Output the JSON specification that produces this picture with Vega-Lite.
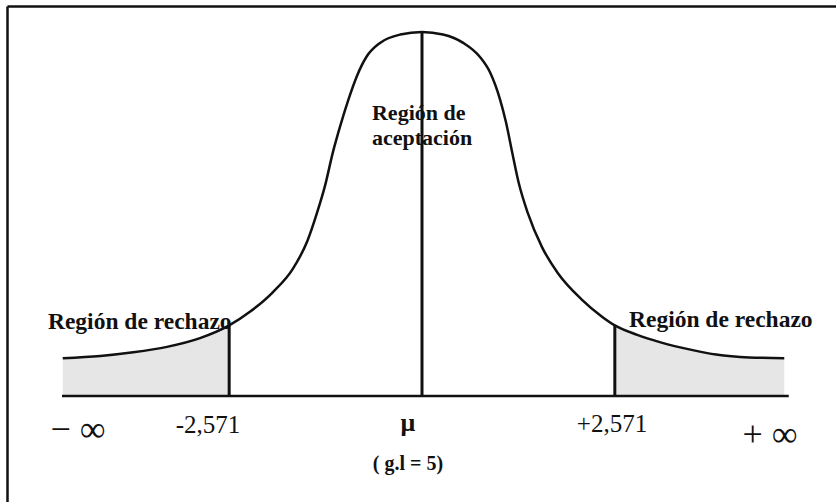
{
  "$schema": "https://vega.github.io/schema/vega-lite/v6.json",
  "width": 829,
  "height": 496,
  "autosize": {"type": "none"},
  "padding": {"left": 7, "top": 6, "right": 0, "bottom": 0},
  "background": "white",
  "config": {
    "view": {"stroke": null},
    "axis": {"grid": false, "ticks": false, "labels": false, "domain": true, "domainColor": "#111111", "domainWidth": 2.5, "title": null}
  },
  "datasets": {
    "curva": [
      {"t": -4.79, "y": 0.104, "zona": "izq"},
      {"t": -4.29, "y": 0.110, "zona": "izq"},
      {"t": -3.85, "y": 0.120, "zona": "izq"},
      {"t": -3.40, "y": 0.135, "zona": "izq"},
      {"t": -2.96, "y": 0.159, "zona": "izq"},
      {"t": -2.571, "y": 0.194, "zona": "izq"},
      {"t": -2.29, "y": 0.232, "zona": "centro"},
      {"t": -1.99, "y": 0.285, "zona": "centro"},
      {"t": -1.72, "y": 0.350, "zona": "centro"},
      {"t": -1.53, "y": 0.425, "zona": "centro"},
      {"t": -1.40, "y": 0.503, "zona": "centro"},
      {"t": -1.29, "y": 0.580, "zona": "centro"},
      {"t": -1.19, "y": 0.668, "zona": "centro"},
      {"t": -1.09, "y": 0.742, "zona": "centro"},
      {"t": -0.98, "y": 0.815, "zona": "centro"},
      {"t": -0.87, "y": 0.878, "zona": "centro"},
      {"t": -0.74, "y": 0.932, "zona": "centro"},
      {"t": -0.56, "y": 0.970, "zona": "centro"},
      {"t": -0.29, "y": 0.993, "zona": "centro"},
      {"t": 0, "y": 1.0, "zona": "centro"},
      {"t": 0.28, "y": 0.993, "zona": "centro"},
      {"t": 0.55, "y": 0.970, "zona": "centro"},
      {"t": 0.77, "y": 0.932, "zona": "centro"},
      {"t": 0.91, "y": 0.888, "zona": "centro"},
      {"t": 1.04, "y": 0.815, "zona": "centro"},
      {"t": 1.12, "y": 0.752, "zona": "centro"},
      {"t": 1.20, "y": 0.672, "zona": "centro"},
      {"t": 1.29, "y": 0.585, "zona": "centro"},
      {"t": 1.41, "y": 0.503, "zona": "centro"},
      {"t": 1.60, "y": 0.409, "zona": "centro"},
      {"t": 1.81, "y": 0.338, "zona": "centro"},
      {"t": 2.13, "y": 0.265, "zona": "centro"},
      {"t": 2.40, "y": 0.218, "zona": "centro"},
      {"t": 2.571, "y": 0.194, "zona": "der"},
      {"t": 2.87, "y": 0.168, "zona": "der"},
      {"t": 3.17, "y": 0.148, "zona": "der"},
      {"t": 3.61, "y": 0.126, "zona": "der"},
      {"t": 3.92, "y": 0.114, "zona": "der"},
      {"t": 4.36, "y": 0.106, "zona": "der"},
      {"t": 4.83, "y": 0.104, "zona": "der"}
    ],
    "lineas": [
      {"t": -2.571, "y": 0, "ytop": 0.194},
      {"t": 0, "y": 0, "ytop": 1.0},
      {"t": 2.571, "y": 0, "ytop": 0.194}
    ],
    "base": [
      {"t": -4.8, "t2": 4.89, "y": 0}
    ],
    "rotulos": [
      {"t": -4.987, "y": 0.184, "texto": "Región de rechazo", "grupo": "rechazo"},
      {"t": 2.76, "y": 0.190, "texto": "Región de rechazo", "grupo": "rechazo"},
      {"t": -0.667, "y": 0.758, "texto": "Región de", "grupo": "region"},
      {"t": -0.667, "y": 0.690, "texto": "aceptación", "grupo": "region"},
      {"t": -2.853, "y": -0.102, "texto": "-2,571", "grupo": "valor"},
      {"t": 2.533, "y": -0.099, "texto": "+2,571", "grupo": "valor"},
      {"t": -0.187, "y": -0.096, "texto": "μ", "grupo": "mu"},
      {"t": -0.187, "y": -0.203, "texto": "( g.l = 5)", "grupo": "gl"},
      {"t": -4.587, "y": -0.093, "texto": "− ∞", "grupo": "inf"},
      {"t": 4.64, "y": -0.107, "texto": "+ ∞", "grupo": "inf"}
    ]
  },
  "encoding": {
    "x": {"field": "t", "type": "quantitative", "scale": {"domain": [-5.5333, 5.52], "nice": false, "zero": false}, "axis": {"orient": "top", "title": null}},
    "y": {"field": "y", "type": "quantitative", "scale": {"domain": [-0.2912, 1.0714], "nice": false, "zero": false}, "axis": {"orient": "left", "title": null}}
  },
  "layer": [
    {
      "data": {"name": "curva"},
      "transform": [{"filter": "datum.zona == 'izq'"}],
      "mark": {"type": "area", "interpolate": "monotone", "fill": "#e6e6e6"},
      "encoding": {"y2": {"datum": 0}}
    },
    {
      "data": {"name": "curva"},
      "transform": [{"filter": "datum.zona == 'der'"}],
      "mark": {"type": "area", "interpolate": "monotone", "fill": "#e6e6e6"},
      "encoding": {"y2": {"datum": 0}}
    },
    {
      "data": {"name": "curva"},
      "mark": {"type": "line", "interpolate": "monotone", "stroke": "#111111", "strokeWidth": 2.5},
      "encoding": {}
    },
    {
      "data": {"name": "lineas"},
      "mark": {"type": "rule", "stroke": "#111111", "strokeWidth": 3},
      "encoding": {"y2": {"field": "ytop"}}
    },
    {
      "data": {"name": "base"},
      "mark": {"type": "rule", "stroke": "#111111", "strokeWidth": 2.5},
      "encoding": {"x2": {"field": "t2"}}
    },
    {
      "data": {"name": "rotulos"},
      "transform": [{"filter": "datum.grupo == 'rechazo'"}],
      "mark": {"type": "text", "font": "Liberation Serif", "fontSize": 23.5, "fontWeight": "bold", "align": "left", "baseline": "alphabetic", "color": "#111111"},
      "encoding": {"text": {"field": "texto"}}
    },
    {
      "data": {"name": "rotulos"},
      "transform": [{"filter": "datum.grupo == 'region'"}],
      "mark": {"type": "text", "font": "Liberation Serif", "fontSize": 22, "fontWeight": "bold", "align": "left", "baseline": "alphabetic", "color": "#111111"},
      "encoding": {"text": {"field": "texto"}}
    },
    {
      "data": {"name": "rotulos"},
      "transform": [{"filter": "datum.grupo == 'valor'"}],
      "mark": {"type": "text", "font": "Liberation Serif", "fontSize": 25, "align": "center", "baseline": "alphabetic", "color": "#111111"},
      "encoding": {"text": {"field": "texto"}}
    },
    {
      "data": {"name": "rotulos"},
      "transform": [{"filter": "datum.grupo == 'mu'"}],
      "mark": {"type": "text", "font": "Liberation Serif", "fontSize": 26, "fontWeight": "bold", "align": "center", "baseline": "alphabetic", "color": "#111111"},
      "encoding": {"text": {"field": "texto"}}
    },
    {
      "data": {"name": "rotulos"},
      "transform": [{"filter": "datum.grupo == 'gl'"}],
      "mark": {"type": "text", "font": "Liberation Serif", "fontSize": 20, "fontWeight": "bold", "align": "center", "baseline": "alphabetic", "color": "#111111"},
      "encoding": {"text": {"field": "texto"}}
    },
    {
      "data": {"name": "rotulos"},
      "transform": [{"filter": "datum.grupo == 'inf'"}],
      "mark": {"type": "text", "font": "Liberation Serif", "fontSize": 36, "align": "center", "baseline": "middle", "color": "#111111"},
      "encoding": {"text": {"field": "texto"}}
    }
  ]
}
